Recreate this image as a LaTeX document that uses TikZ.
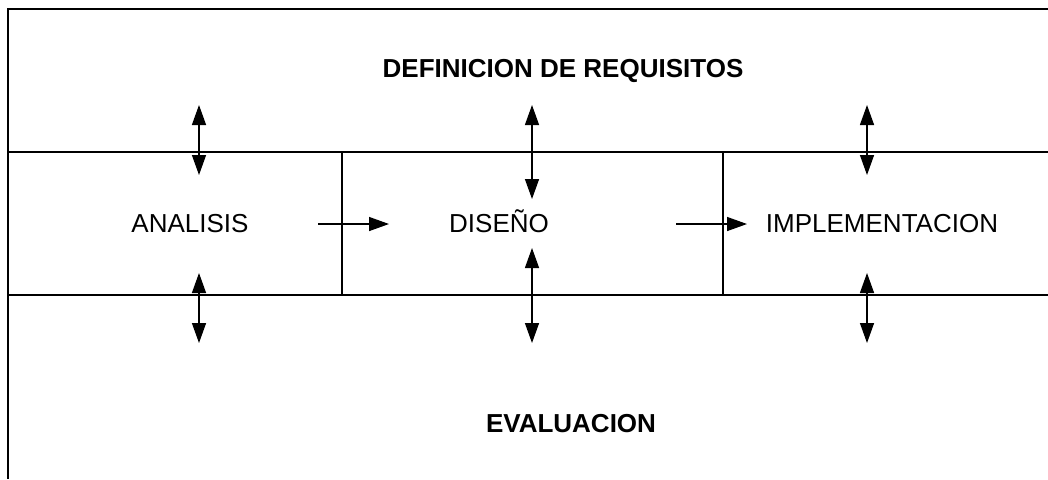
\documentclass[tikz,border=0pt]{standalone}
\usepackage{fontspec}
\setmainfont{Liberation Sans}
\usetikzlibrary{arrows.meta,positioning}

\begin{document}
\begin{tikzpicture}[x=0.5pt,y=-0.5pt,
% The frame lines:
frame/.style={line width=0.75pt},
% The phase texts:
phase/.style={anchor=base,inner sep=0pt,font=\fontsize{13}{15}\selectfont},
% The two bands, bold:
stage/.style={phase,font=\fontsize{13}{15}\selectfont\bfseries},
% The arrows:
flow/.style={line width=0.7pt,-{Triangle[length=10pt,width=7pt]}},
link/.style={line width=0.7pt,{Triangle[length=10pt,width=7pt]}-{Triangle[length=10pt,width=7pt]}}]

\useasboundingbox (0,0) rectangle (1048,479);

% frame
\draw[frame] (1048,9) -- (8,9) -- (8,479);
\draw[frame] (8,152) -- (1048,152);
\draw[frame] (8,295) -- (1048,295);
\draw[frame] (342,152) -- (342,295);
\draw[frame] (723,152) -- (723,295);

\node (req) [stage] at (563,77) {DEFINICION DE REQUISITOS};
\node (ana) [phase] at (190,232) {ANALISIS};
\node (dis) [phase] at (499,232) {DISEÑO};
\node (imp) [phase] at (882,232) {IMPLEMENTACION};
\node (eva) [stage] at (571,432) {EVALUACION};

\foreach \n/\x/\t/\b in {a/199/175/273, d/532/199/248, i/867/175/273} {
  \coordinate (\n top) at (\x,105);
  \coordinate (\n up) at (\x,\t);
  \coordinate (\n low) at (\x,\b);
  \coordinate (\n bot) at (\x,343);
  \path (\n top) edge[link] (\n up);
  \path (\n low) edge[link] (\n bot);
}

\coordinate (f1) at (318,224);
\coordinate (f2) at (389,224);
\coordinate (f3) at (676,224);
\coordinate (f4) at (747,224);
\path (f1) edge[flow] (f2);
\path (f3) edge[flow] (f4);
\end{tikzpicture}
\end{document}
